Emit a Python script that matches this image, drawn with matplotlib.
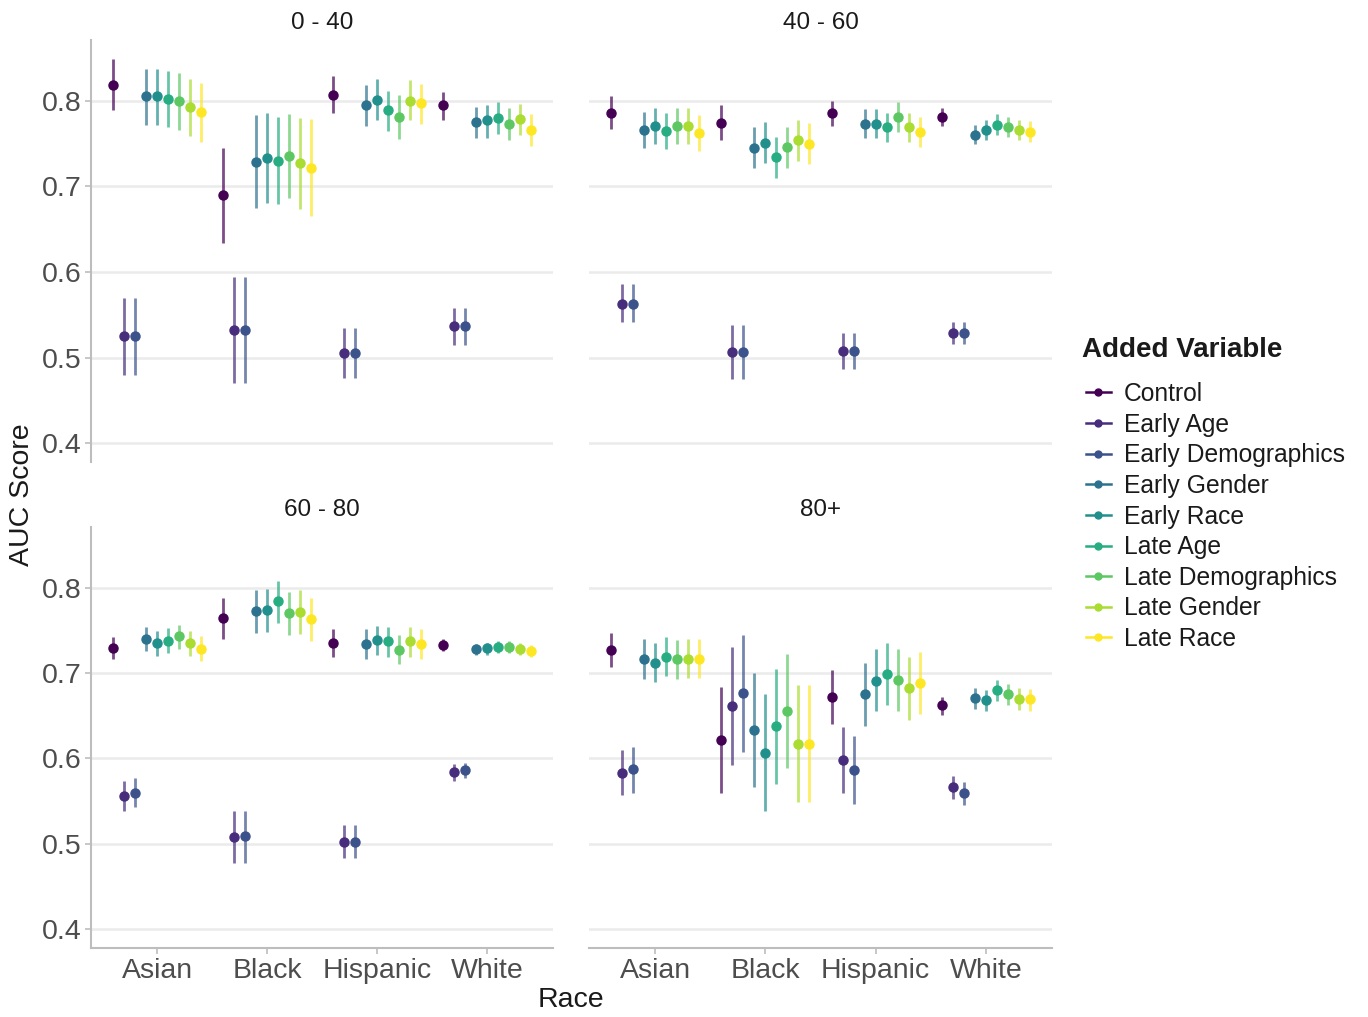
import numpy as np
import matplotlib
matplotlib.use("Agg")
import matplotlib.pyplot as plt
from matplotlib.lines import Line2D

plt.rcParams['font.family'] = ['Liberation Sans', 'DejaVu Sans']

races = ["Asian", "Black", "Hispanic", "White"]
variables = ["Control", "Early Age", "Early Demographics", "Early Gender", "Early Race",
             "Late Age", "Late Demographics", "Late Gender", "Late Race"]
colors = ["#440154", "#472D7B", "#3B528B", "#2C728E", "#21908C",
          "#27AD81", "#5DC863", "#AADC32", "#FDE725"]
age_groups = ["0 - 40", "40 - 60", "60 - 80", "80+"]

# rows = races, columns = variables
est_0_40 = [[0.819, 0.525, 0.525, 0.805, 0.805, 0.802, 0.800, 0.793, 0.787],
            [0.690, 0.532, 0.532, 0.729, 0.733, 0.730, 0.736, 0.727, 0.722],
            [0.807, 0.505, 0.505, 0.795, 0.801, 0.789, 0.781, 0.800, 0.797],
            [0.795, 0.537, 0.537, 0.775, 0.777, 0.780, 0.773, 0.779, 0.766]]
lo_0_40 = [[0.789, 0.480, 0.480, 0.772, 0.772, 0.769, 0.766, 0.759, 0.752],
           [0.634, 0.470, 0.470, 0.675, 0.680, 0.679, 0.686, 0.673, 0.665],
           [0.786, 0.476, 0.476, 0.771, 0.778, 0.765, 0.755, 0.777, 0.773],
           [0.778, 0.515, 0.515, 0.756, 0.757, 0.761, 0.754, 0.760, 0.747]]
hi_0_40 = [[0.849, 0.570, 0.570, 0.837, 0.837, 0.835, 0.833, 0.826, 0.821],
           [0.745, 0.594, 0.594, 0.783, 0.786, 0.781, 0.784, 0.780, 0.779],
           [0.829, 0.534, 0.534, 0.818, 0.825, 0.812, 0.807, 0.824, 0.820],
           [0.810, 0.558, 0.558, 0.793, 0.795, 0.798, 0.791, 0.796, 0.785]]

est_40_60 = [[0.786, 0.563, 0.563, 0.766, 0.771, 0.765, 0.770, 0.770, 0.762],
             [0.774, 0.506, 0.506, 0.745, 0.751, 0.734, 0.746, 0.754, 0.750],
             [0.786, 0.508, 0.508, 0.773, 0.773, 0.769, 0.781, 0.769, 0.763],
             [0.781, 0.529, 0.529, 0.760, 0.766, 0.772, 0.769, 0.766, 0.764]]
lo_40_60 = [[0.767, 0.541, 0.541, 0.745, 0.749, 0.744, 0.749, 0.749, 0.741],
            [0.754, 0.475, 0.475, 0.722, 0.727, 0.710, 0.722, 0.730, 0.726],
            [0.770, 0.487, 0.487, 0.756, 0.756, 0.752, 0.763, 0.752, 0.746],
            [0.771, 0.516, 0.516, 0.749, 0.754, 0.760, 0.758, 0.754, 0.752]]
hi_40_60 = [[0.805, 0.586, 0.586, 0.787, 0.791, 0.786, 0.791, 0.791, 0.783],
            [0.795, 0.538, 0.538, 0.769, 0.775, 0.758, 0.769, 0.777, 0.774],
            [0.800, 0.529, 0.529, 0.790, 0.790, 0.786, 0.798, 0.786, 0.781],
            [0.791, 0.542, 0.542, 0.772, 0.778, 0.784, 0.781, 0.778, 0.776]]

est_60_80 = [[0.729, 0.556, 0.560, 0.740, 0.735, 0.738, 0.743, 0.735, 0.728],
             [0.764, 0.508, 0.509, 0.773, 0.774, 0.784, 0.770, 0.772, 0.763],
             [0.735, 0.502, 0.502, 0.734, 0.739, 0.737, 0.727, 0.737, 0.734],
             [0.733, 0.584, 0.586, 0.728, 0.729, 0.730, 0.731, 0.728, 0.726]]
lo_60_80 = [[0.716, 0.539, 0.543, 0.726, 0.720, 0.723, 0.728, 0.720, 0.714],
            [0.740, 0.477, 0.478, 0.747, 0.748, 0.758, 0.744, 0.746, 0.737],
            [0.719, 0.483, 0.483, 0.716, 0.721, 0.719, 0.710, 0.719, 0.717],
            [0.726, 0.574, 0.577, 0.721, 0.721, 0.724, 0.724, 0.721, 0.719]]
hi_60_80 = [[0.742, 0.573, 0.577, 0.754, 0.749, 0.753, 0.756, 0.749, 0.743],
            [0.788, 0.538, 0.539, 0.797, 0.798, 0.808, 0.795, 0.797, 0.788],
            [0.751, 0.522, 0.522, 0.751, 0.755, 0.754, 0.744, 0.754, 0.751],
            [0.740, 0.593, 0.595, 0.734, 0.735, 0.737, 0.737, 0.735, 0.733]]

est_80 = [[0.727, 0.583, 0.588, 0.716, 0.712, 0.719, 0.716, 0.717, 0.717],
          [0.622, 0.661, 0.677, 0.633, 0.606, 0.638, 0.655, 0.617, 0.617],
          [0.672, 0.598, 0.587, 0.675, 0.691, 0.699, 0.692, 0.682, 0.688],
          [0.662, 0.566, 0.559, 0.671, 0.668, 0.680, 0.675, 0.670, 0.669]]
lo_80 = [[0.707, 0.557, 0.560, 0.693, 0.689, 0.696, 0.693, 0.694, 0.694],
         [0.560, 0.592, 0.608, 0.566, 0.538, 0.570, 0.589, 0.549, 0.549],
         [0.640, 0.559, 0.547, 0.638, 0.655, 0.663, 0.655, 0.645, 0.652],
         [0.651, 0.553, 0.545, 0.658, 0.655, 0.667, 0.662, 0.657, 0.656]]
hi_80 = [[0.747, 0.610, 0.613, 0.740, 0.735, 0.742, 0.739, 0.740, 0.740],
         [0.684, 0.730, 0.745, 0.700, 0.675, 0.705, 0.722, 0.686, 0.686],
         [0.704, 0.637, 0.626, 0.712, 0.728, 0.735, 0.728, 0.719, 0.725],
         [0.672, 0.579, 0.572, 0.683, 0.680, 0.692, 0.687, 0.682, 0.681]]

panels = [(est_0_40, lo_0_40, hi_0_40), (est_40_60, lo_40_60, hi_40_60),
          (est_60_80, lo_60_80, hi_60_80), (est_80, lo_80, hi_80)]

W, H = 1368, 1017
fig = plt.figure(figsize=(W / 100, H / 100), dpi=100)

# panel boxes in pixels: left, top, right, bottom
boxes = [(91, 40, 553, 462), (589, 40, 1052, 462),
         (91, 527, 553, 948), (589, 527, 1052, 948)]

grid_col = "#EBEBEB"
axis_col = "#BDBDBD"
tick_col = "#4D4D4D"

x = np.arange(1, len(races) + 1)
step = 0.1

for k, (l, t, r, b) in enumerate(boxes):
    ax = fig.add_axes([l / W, 1 - b / H, (r - l) / W, (b - t) / H])
    est, lo, hi = [np.array(a) for a in panels[k]]
    for j, var in enumerate(variables):
        xs = x + (j - 4) * step
        yerr = [est[:, j] - lo[:, j], hi[:, j] - est[:, j]]
        ax.errorbar(xs, est[:, j], yerr=yerr, fmt="none", ecolor=colors[j],
                    elinewidth=2.0, alpha=0.7, zorder=3)
        ax.plot(xs, est[:, j], "o", color=colors[j], markersize=6.5, zorder=4)

    ax.set_xlim(0.4, 4.6)
    ax.set_ylim(0.378, 0.871)
    ax.set_yticks([0.4, 0.5, 0.6, 0.7, 0.8])
    ax.set_xticks(x)
    ax.grid(axis="y", color=grid_col, linewidth=1.8)
    ax.set_axisbelow(True)
    for s in ax.spines.values():
        s.set_visible(False)
    ax.tick_params(colors=axis_col, width=1.2, length=4, labelcolor=tick_col, labelsize=20.5)

    left = k % 2 == 0
    bottom = k >= 2
    if left:
        ax.spines["left"].set_visible(True)
        ax.spines["left"].set_color(axis_col)
        ax.spines["left"].set_linewidth(1.5)
        ax.set_yticklabels(["0.4", "0.5", "0.6", "0.7", "0.8"])
        ax.tick_params(axis="y", pad=3)
    else:
        ax.tick_params(axis="y", left=False, labelleft=False)
    if bottom:
        ax.spines["bottom"].set_visible(True)
        ax.spines["bottom"].set_color(axis_col)
        ax.spines["bottom"].set_linewidth(1.5)
        ax.set_xticklabels(races)
        ax.tick_params(axis="x", pad=3.5)
    else:
        ax.tick_params(axis="x", bottom=False, labelbottom=False)

    ax.set_title(age_groups[k], fontsize=17.5, color="#1A1A1A", pad=8)

fig.text(22 / W, 1 - 495 / H, "AUC Score", rotation=90, fontsize=20.5,
         color="#1A1A1A", ha="center", va="center")
fig.text(571 / W, 1 - 1000 / H, "Race", fontsize=20.5, color="#1A1A1A",
         ha="center", va="center")

fig.text(1082 / W, 1 - 350 / H, "Added Variable", fontsize=20, weight="bold",
         color="#1A1A1A", ha="left", va="center")
handles = [Line2D([0], [0], color=c, marker="o", markersize=5, linewidth=1.8)
           for c in colors]
leg = fig.legend(handles, variables, loc="upper left",
                 bbox_to_anchor=(1086 / W, 1 - 382 / H), frameon=False,
                 fontsize=17.7, borderpad=0, borderaxespad=0,
                 handlelength=1.0, handletextpad=0.55, labelspacing=0.27)
for txt in leg.get_texts():
    txt.set_color("#1A1A1A")

fig.savefig("out.png", dpi=100)
